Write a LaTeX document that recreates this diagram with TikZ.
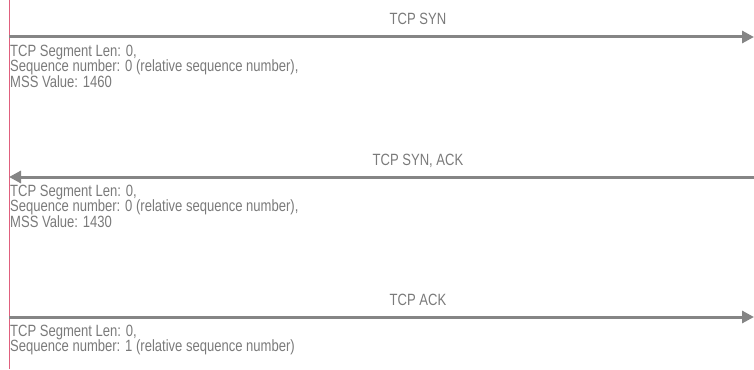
\documentclass[tikz,border=0pt]{standalone}
\usepackage{fontspec}
\setmainfont{Liberation Sans}[FakeStretch=0.8]
\usetikzlibrary{arrows.meta}
\definecolor{txtgray}{HTML}{7A7A7A}
\definecolor{arrgray}{HTML}{858585}
\definecolor{lifered}{HTML}{E0607E}
\begin{document}
\begin{tikzpicture}[x=1pt,y=-1pt,
  msg/.style={draw=arrgray,line width=3pt,-{Triangle[length=12pt,width=12pt]}},
  lbl/.style={text=txtgray,font=\fontsize{16.3}{16}\selectfont,inner sep=0pt,anchor=base},
  info/.style={text=txtgray,font=\fontsize{16.3}{15.7}\selectfont,inner sep=0pt,anchor=north west,align=left}]
\useasboundingbox (0,0) rectangle (754,369);
\coordinate (top) at (9.5,0);
\coordinate (bot) at (9.5,369);
\draw[lifered,line width=1.3pt] (top) -- (bot);
\coordinate (a1l) at (9,37);   \coordinate (a1r) at (754,37);
\coordinate (a2l) at (9,177);  \coordinate (a2r) at (754,177);
\coordinate (a3l) at (9,317);  \coordinate (a3r) at (754,317);
\draw[msg] (a1l) -- (a1r);
\draw[msg] (a2r) -- (a2l);
\draw[msg] (a3l) -- (a3r);
\node[lbl] (l1) at (418,25) {TCP SYN};
\node[lbl] (l2) at (418,165) {TCP SYN, ACK};
\node[lbl] (l3) at (418,305) {TCP ACK};
\node[info] (i1) at (10,44.5) {TCP Segment Len: 0,\\Sequence number: 0 (relative sequence number),\\MSS Value: 1460};
\node[info] (i2) at (10,184.5) {TCP Segment Len: 0,\\Sequence number: 0 (relative sequence number),\\MSS Value: 1430};
\node[info] (i3) at (10,324.5) {TCP Segment Len: 0,\\Sequence number: 1 (relative sequence number)};
\end{tikzpicture}
\end{document}
